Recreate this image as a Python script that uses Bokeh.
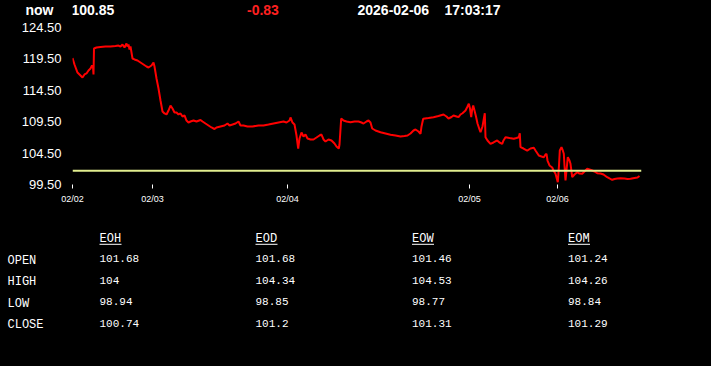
from bokeh.plotting import figure
from bokeh.layouts import column
from bokeh.models import Range1d, FixedTicker, Span, ColumnDataSource
from bokeh.core.properties import value
from bokeh.embed import file_html
from bokeh.resources import INLINE

# ---------------- data ----------------
now_label = "now"
now_price = 100.85
change = -0.83
ref_price = 101.68
date_str = "2026-02-06"
time_str = "17:03:17"

tick_pos = [0, 80, 215, 397, 485]
tick_labels = ["02/02", "02/03", "02/04", "02/05", "02/06"]
y_ticks = [99.5, 104.5, 109.5, 114.5, 119.5, 124.5]
y_tick_labels = ["99.50", "104.50", "109.50", "114.50", "119.50", "124.50"]

t = [0, 2, 5, 8, 10, 12, 14, 16, 18, 19.5, 20.5, 21, 21.5, 24, 28, 33, 38, 43, 46, 48,
     50, 52, 54, 55, 56, 57, 58, 59, 60, 62, 65, 68, 71, 74, 76, 79, 81, 82, 84, 86,
     88, 90, 92, 94, 96, 98, 100, 102, 104, 106, 108, 110, 112, 114, 116, 118, 121, 124, 128, 130,
     133, 136, 139, 142, 144, 148, 152, 155, 157, 160, 163, 166, 168, 171, 175, 180, 186, 191, 196, 201,
     206, 211, 214, 217, 218, 220, 222, 224, 225.7, 227, 229, 231, 233, 235, 238, 241, 244, 247, 249, 251,
     253, 256, 259, 262, 264, 266.3, 267, 268.7, 271, 274, 278, 282, 286, 289, 291, 294, 296, 298, 299.7, 303,
     308, 313, 318, 323, 328, 332, 335, 338, 341, 343, 346, 348, 349, 350.7, 356, 361, 366, 371, 374, 376,
     379, 381, 384, 386, 388, 390, 393, 395, 396.3, 397.5, 398.7, 399.5, 400.7, 402, 403.5, 405, 407, 408, 410, 412.3,
     413, 415, 418, 421, 424.7, 427, 429.7, 431, 433, 437, 441.3, 444, 446.3, 447.3, 448, 451, 454.7, 458, 461.3, 463,
     466.3, 469, 471.3, 473, 474, 475, 477, 479.7, 481, 483, 485.3, 486.5, 487.3, 489, 490, 491.3, 492, 493, 494, 495.3,
     497, 498, 499.7, 502, 504.7, 507, 509.7, 512, 514.7, 517, 519.7, 522, 524.7, 528, 531, 534.7, 537, 539.7, 542, 545,
     548, 552, 555, 558, 562, 565, 567]

price = [119.64, 118.61, 117.33, 116.86, 116.54, 117.02, 117.18, 117.65, 117.97, 118.45, 118.29, 117.02, 121.16, 121.32, 121.40, 121.47, 121.47, 121.55, 121.63, 121.47,
         121.79, 121.32, 121.95, 121.47, 121.79, 121.00, 121.47, 120.52, 119.56, 119.41, 119.25, 118.93, 118.61, 118.29, 118.13, 118.45, 118.93, 118.29, 116.38, 114.79,
         112.88, 111.12, 110.81, 110.65, 111.28, 112.08, 111.60, 110.97, 110.97, 110.65, 110.81, 110.33, 110.49, 109.69, 109.37, 109.53, 109.69, 109.53, 109.77, 109.53,
         109.21, 108.90, 108.58, 108.34, 108.58, 108.74, 108.90, 109.21, 108.90, 109.05, 109.21, 109.53, 108.90, 108.90, 108.74, 108.74, 108.90, 108.90, 109.05, 109.21,
         109.37, 109.53, 109.37, 109.69, 110.17, 109.37, 109.05, 107.30, 105.23, 106.83, 107.78, 107.14, 107.46, 106.83, 106.67, 106.67, 106.98, 107.30, 107.46, 106.67,
         106.35, 106.67, 106.51, 106.03, 105.55, 105.23, 105.87, 110.01, 109.69, 109.53, 109.42, 109.53, 109.53, 109.37, 109.21, 109.53, 109.69, 109.37, 108.42, 108.10,
         107.83, 107.62, 107.41, 107.30, 107.14, 107.22, 107.30, 107.62, 108.10, 108.26, 107.94, 107.57, 108.74, 109.96, 110.09, 110.22, 110.41, 110.65, 110.33, 110.01,
         110.25, 110.49, 110.33, 110.22, 110.65, 110.85, 111.28, 111.92, 112.35, 111.60, 110.22, 111.28, 112.08, 111.28, 110.33, 109.21, 108.26, 107.83, 108.74, 110.85,
         107.03, 106.51, 105.98, 106.19, 106.51, 106.19, 105.98, 106.51, 107.03, 106.90, 106.78, 106.90, 107.03, 107.67, 105.44, 105.23, 104.91, 105.23, 105.34, 104.91,
         104.12, 103.96, 103.85, 104.28, 104.39, 103.32, 102.53, 102.21, 101.73, 101.20, 99.87, 102.53, 104.91, 105.44, 105.07, 104.39, 102.53, 100.14, 101.73, 103.85,
         103.32, 102.80, 100.66, 101.09, 101.46, 101.25, 101.20, 101.57, 102.00, 101.89, 101.73, 101.57, 101.30, 101.25, 101.09, 100.66, 100.46, 100.25, 100.38, 100.46,
         100.50, 100.46, 100.38, 100.41, 100.54, 100.61, 100.85]

assert len(t) == len(price), (len(t), len(price))

table_cols = ["EOH", "EOD", "EOW", "EOM"]
table_rows = ["OPEN", "HIGH", "LOW", "CLOSE"]
open_vals = [101.68, 101.68, 101.46, 101.24]
high_vals = [104, 104.34, 104.53, 104.26]
low_vals = [98.94, 98.85, 98.77, 98.84]
close_vals = [100.74, 101.2, 101.31, 101.29]

# ---------------- layout constants ----------------
W = 711
BG = "black"
SANS = "Liberation Sans"
MONO = "Liberation Mono"
L, R = 72, 70   # side borders shared by every figure (frames are aligned in a column)


def blank_fig(h, y0, y1):
    f = figure(width=W, height=h, x_range=Range1d(L, W - R), y_range=Range1d(y1, y0),
               output_backend="svg", toolbar_location=None, x_axis_location=None,
               min_border_left=L, min_border_right=R, min_border_top=0, min_border_bottom=0,
               background_fill_color=BG, border_fill_color=BG)
    f.outline_line_color = None
    f.grid.visible = False
    ax = f.yaxis[0]
    ax.axis_line_color = None
    ax.major_tick_line_color = None
    ax.minor_tick_line_color = None
    ax.major_tick_in = 0
    ax.major_tick_out = 0
    ax.major_label_text_color = "white"
    return f


# ---------------- header ----------------
hdr = blank_fig(20, 0, 20)
hy = 9.5
ya = hdr.yaxis[0]
ya.ticker = FixedTicker(ticks=[hy])
ya.major_label_overrides = {hy: now_label}
ya.major_label_standoff = 19
ya.major_label_text_font = SANS
ya.major_label_text_font_size = "14px"
ya.major_label_text_font_style = "bold"

hdr_x = [71, 246.5, 357, 444]
hdr_txt = [f"{now_price:.2f}", f"{change:.2f}", date_str, time_str]
hdr_col = ["white", "#ff2020", "white", "white"]
hdr.text(x=hdr_x, y=[hy] * 4, text=hdr_txt, text_color=hdr_col, text_font=value(SANS),
         text_font_size="14px", text_font_style="bold", text_baseline="middle")

# ---------------- chart ----------------
p = figure(width=W, height=190, x_range=Range1d(0, 569), y_range=Range1d(99.5, 124.5),
           output_backend="svg", toolbar_location=None,
           min_border_left=L, min_border_right=R, min_border_top=7, min_border_bottom=26,
           background_fill_color=BG, border_fill_color=BG)
p.outline_line_color = None
p.grid.visible = False

p.yaxis.ticker = FixedTicker(ticks=y_ticks)
p.yaxis.major_label_overrides = dict(zip(y_ticks, y_tick_labels))
p.yaxis.axis_line_color = None
p.yaxis.major_tick_line_color = None
p.yaxis.minor_tick_line_color = None
p.yaxis.major_tick_out = 0
p.yaxis.major_tick_in = 0
p.yaxis.major_label_standoff = 11
p.yaxis.major_label_text_color = "white"
p.yaxis.major_label_text_font = SANS
p.yaxis.major_label_text_font_size = "13px"

p.xaxis.ticker = FixedTicker(ticks=tick_pos)
p.xaxis.major_label_overrides = dict(zip(tick_pos, tick_labels))
p.xaxis.axis_line_color = None
p.xaxis.major_tick_line_color = "white"
p.xaxis.minor_tick_line_color = None
p.xaxis.major_tick_out = 4
p.xaxis.major_tick_in = 0
p.xaxis.major_label_standoff = 5
p.xaxis.major_label_text_color = "white"
p.xaxis.major_label_text_font = SANS
p.xaxis.major_label_text_font_size = "9px"

p.add_layout(Span(location=ref_price, dimension="width", line_color="#e2ee8f", line_width=2))
src = ColumnDataSource(dict(t=t, price=price))
p.line("t", "price", source=src, line_color="#ff0000", line_width=2)

# ---------------- table ----------------
tb = blank_fig(156, 210, 366)
col_x = [99, 255, 411.5, 567.5]
row_y = [260, 281.5, 303, 324.7]
width = max(len(r) for r in table_rows)
ta = tb.yaxis[0]
ta.ticker = FixedTicker(ticks=row_y)
ta.major_label_overrides = {ry: r + "\u00a0" * (width - len(r)) for ry, r in zip(row_y, table_rows)}
ta.major_label_standoff = 29
ta.major_label_text_font = MONO
ta.major_label_text_font_size = "12px"

tb.text(x=col_x, y=[238] * 4, text=table_cols, text_color="white", text_font=value(MONO),
        text_font_size="12px", text_baseline="middle")
tb.segment(x0=col_x, y0=[243.8] * 4, x1=[c + 22 for c in col_x], y1=[243.8] * 4,
           line_color="white", line_width=1)
for vals, ry in zip([open_vals, high_vals, low_vals, close_vals], row_y):
    tb.text(x=col_x, y=[ry - 2] * 4, text=[f"{v:g}" for v in vals], text_color="white",
            text_font=value(MONO), text_font_size="11px", text_baseline="middle")

layout = column(hdr, p, tb, spacing=0)
layout.styles = {"background-color": "black"}
open("out.html", "w").write(file_html(layout, INLINE))
